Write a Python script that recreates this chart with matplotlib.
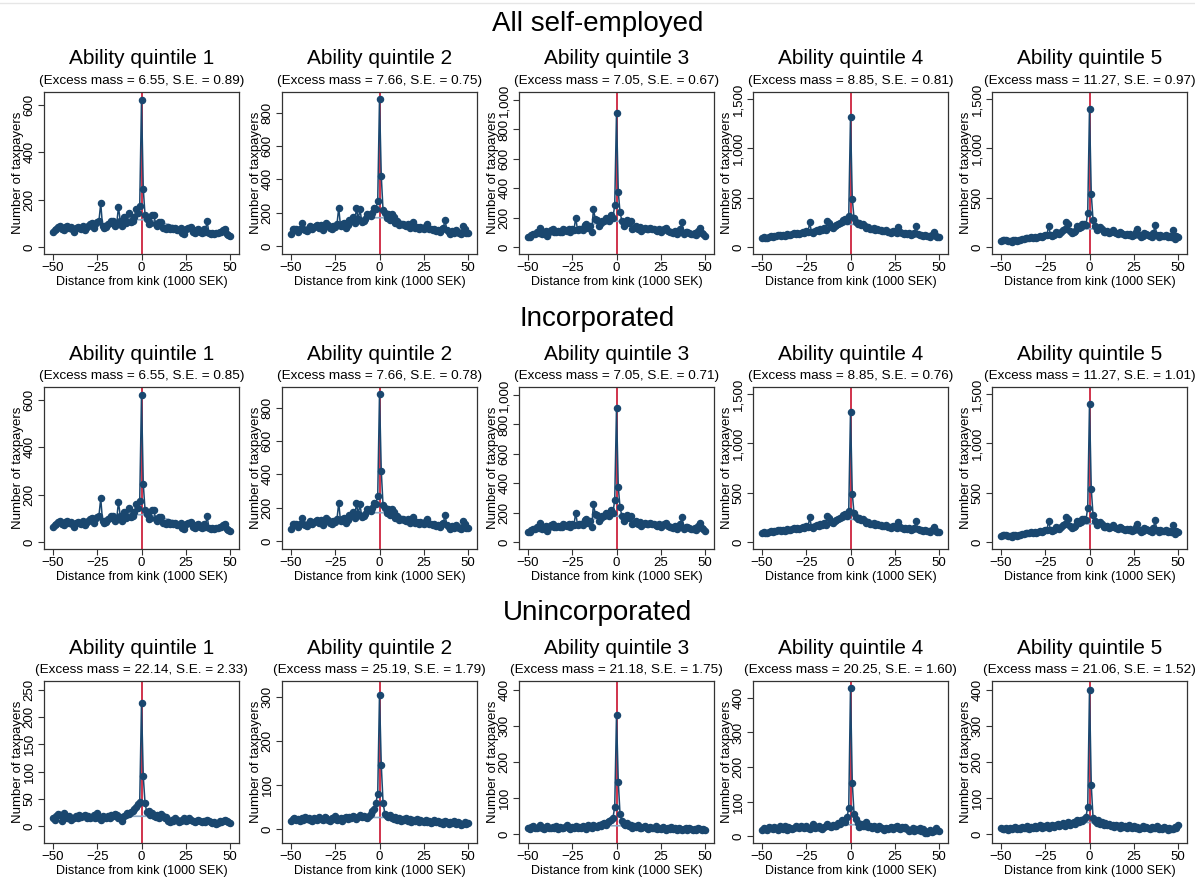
import numpy as np
import matplotlib
matplotlib.use("Agg")
from matplotlib import pyplot as plt
from matplotlib.ticker import FuncFormatter

plt.rcParams['font.family'] = ['Liberation Sans', 'DejaVu Sans']

# distance from kink, 1000 SEK bins
dist = list(range(-50, 51))

# all self-employed / incorporated (same counts in the reference)
all_q1 = [65, 70, 75, 85, 90, 75, 70, 85, 90, 80, 85, 75, 65, 80, 85, 80, 75, 90, 70, 85,
          90, 95, 100, 80, 95, 105, 110, 185, 90, 80, 85, 95, 100, 110, 110, 90, 95, 170, 110, 90,
          125, 100, 105, 145, 105, 110, 125, 160, 145, 175, 620, 245, 135, 120, 95, 100, 135, 135, 95, 90,
          105, 105, 80, 80, 75, 85, 75, 80, 75, 78, 70, 72, 80, 60, 55, 75, 78, 80, 85, 65,
          60, 70, 75, 65, 60, 75, 65, 110, 60, 55, 60, 55, 60, 58, 62, 65, 70, 75, 55, 50, 45]
all_q2 = [75, 100, 105, 100, 85, 100, 140, 105, 95, 90, 110, 120, 105, 115, 120, 125, 110, 125, 95, 120,
          140, 125, 110, 105, 120, 115, 130, 230, 120, 135, 140, 110, 125, 155, 150, 175, 140, 230, 160, 220,
          145, 150, 160, 190, 185, 180, 200, 230, 225, 270, 880, 420, 215, 200, 170, 195, 155, 190, 175, 140,
          150, 125, 135, 130, 125, 120, 130, 110, 120, 145, 110, 115, 105, 115, 110, 100, 120, 130, 105, 100,
          95, 100, 90, 95, 85, 100, 110, 155, 95, 85, 70, 90, 80, 95, 85, 80, 75, 120, 100, 80, 80]
all_q3 = [65, 70, 80, 85, 90, 100, 95, 130, 90, 100, 110, 75, 105, 115, 120, 105, 100, 110, 105, 100,
          120, 115, 110, 120, 100, 120, 115, 200, 115, 125, 120, 115, 150, 155, 130, 145, 100, 260, 190, 185,
          140, 160, 180, 175, 200, 190, 180, 220, 200, 285, 910, 375, 235, 180, 140, 160, 185, 160, 175, 125,
          130, 140, 120, 135, 110, 125, 130, 120, 120, 130, 125, 120, 115, 110, 120, 105, 115, 125, 130, 110,
          105, 100, 95, 110, 90, 105, 125, 170, 90, 100, 105, 95, 90, 85, 95, 80, 110, 130, 95, 90, 75]
all_q4 = [95, 100, 90, 95, 100, 110, 105, 110, 115, 120, 125, 110, 120, 115, 130, 125, 120, 135, 140, 130,
          145, 135, 140, 150, 145, 160, 150, 250, 150, 145, 165, 170, 160, 180, 175, 190, 170, 260, 240, 200,
          190, 210, 220, 230, 240, 250, 270, 280, 260, 310, 1320, 490, 290, 250, 230, 240, 220, 230, 210, 190,
          200, 185, 180, 190, 175, 180, 170, 175, 165, 160, 170, 150, 155, 145, 160, 150, 145, 200, 150, 140,
          135, 145, 130, 140, 125, 130, 140, 210, 130, 120, 125, 115, 120, 110, 115, 105, 120, 150, 110, 100, 105]
all_q5 = [65, 70, 75, 70, 65, 60, 55, 75, 70, 65, 70, 75, 80, 85, 90, 95, 90, 100, 95, 105,
          95, 100, 110, 105, 110, 120, 125, 215, 120, 110, 125, 150, 140, 135, 150, 170, 180, 250, 230, 165,
          140, 150, 165, 210, 190, 200, 230, 235, 220, 350, 1395, 535, 275, 215, 175, 195, 200, 185, 155, 150,
          160, 145, 150, 170, 155, 140, 135, 155, 140, 130, 125, 135, 120, 130, 115, 125, 155, 180, 120, 105,
          115, 140, 135, 125, 110, 100, 140, 220, 120, 105, 125, 115, 110, 120, 105, 110, 100, 175, 85, 110, 105]

# unincorporated
unc_q1 = [15, 12, 18, 22, 20, 10, 24, 20, 15, 18, 12, 15, 14, 18, 15, 20, 16, 18, 20, 15,
          18, 14, 16, 20, 15, 24, 14, 12, 18, 16, 14, 18, 15, 20, 18, 22, 20, 14, 16, 10,
          18, 20, 24, 22, 26, 28, 32, 35, 40, 44, 226, 91, 42, 25, 28, 20, 24, 18, 16, 20,
          15, 22, 18, 14, 16, 10, 8, 12, 10, 14, 12, 8, 10, 12, 14, 10, 12, 15, 12, 10,
          8, 10, 12, 9, 7, 10, 8, 12, 10, 8, 5, 7, 3, 6, 9, 8, 10, 12, 9, 8, 5]
unc_q2 = [18, 22, 25, 20, 22, 18, 24, 20, 26, 22, 25, 20, 18, 24, 22, 20, 26, 22, 20, 28,
          24, 20, 18, 25, 22, 30, 20, 22, 25, 18, 24, 26, 22, 28, 25, 30, 26, 22, 28, 32,
          26, 30, 28, 24, 30, 35, 40, 45, 60, 80, 305, 145, 60, 35, 30, 28, 32, 25, 22, 28,
          20, 24, 18, 22, 20, 25, 18, 22, 15, 20, 18, 22, 15, 20, 18, 16, 20, 15, 18, 14,
          16, 20, 15, 18, 14, 16, 12, 18, 15, 12, 16, 14, 18, 12, 15, 14, 10, 12, 15, 12, 14]
unc_q3 = [18, 15, 20, 22, 18, 16, 20, 24, 18, 15, 20, 22, 18, 16, 20, 18, 22, 15, 20, 18,
          16, 20, 24, 18, 15, 20, 18, 22, 16, 20, 18, 22, 20, 15, 24, 20, 18, 25, 22, 20,
          26, 22, 28, 30, 25, 32, 35, 40, 45, 75, 330, 145, 55, 35, 28, 24, 30, 22, 25, 18,
          22, 20, 24, 18, 16, 20, 22, 18, 15, 20, 16, 18, 22, 15, 18, 14, 20, 16, 12, 18,
          15, 20, 14, 16, 12, 18, 15, 10, 14, 18, 12, 16, 14, 10, 15, 12, 18, 14, 10, 15, 12]
unc_q4 = [18, 22, 20, 18, 25, 22, 20, 26, 24, 18, 28, 22, 20, 30, 18, 25, 22, 20, 24, 28,
          25, 22, 30, 26, 22, 28, 24, 20, 26, 34, 22, 25, 28, 24, 20, 26, 30, 35, 28, 25,
          32, 30, 28, 38, 35, 48, 42, 40, 55, 80, 430, 155, 65, 50, 38, 25, 35, 28, 30, 40,
          26, 28, 22, 30, 25, 20, 28, 24, 22, 18, 24, 20, 22, 25, 20, 26, 28, 22, 20, 25,
          22, 26, 20, 15, 18, 22, 14, 20, 18, 22, 16, 20, 10, 8, 14, 18, 12, 16, 22, 18, 16]
unc_q5 = [18, 15, 14, 16, 12, 18, 14, 16, 20, 15, 18, 14, 20, 16, 18, 22, 15, 20, 18, 22,
          16, 20, 24, 18, 22, 20, 26, 18, 22, 25, 20, 24, 28, 22, 25, 30, 22, 28, 32, 26,
          30, 34, 28, 38, 32, 40, 36, 42, 48, 75, 400, 135, 45, 35, 30, 38, 28, 32, 26, 30,
          24, 28, 22, 26, 20, 24, 22, 18, 25, 20, 22, 18, 24, 20, 16, 22, 18, 20, 15, 18,
          22, 16, 20, 18, 14, 20, 16, 18, 22, 15, 18, 14, 20, 16, 12, 18, 15, 14, 20, 16, 25]

# counterfactual (smooth fit, flat over the excluded window)
cf_x = [-50, -30, -15, -6, 5, 15, 30, 50]
cf_all = [[70, 90, 105, 115, 115, 95, 70, 55],
          [95, 120, 150, 170, 170, 140, 105, 85],
          [80, 110, 150, 175, 175, 135, 110, 90],
          [100, 140, 195, 230, 230, 185, 140, 110],
          [65, 100, 150, 185, 185, 150, 125, 105]]
cf_unc = [[16, 17, 18, 18, 18, 16, 12, 8],
          [22, 23, 25, 26, 26, 22, 17, 13],
          [18, 19, 21, 23, 23, 20, 16, 13],
          [22, 25, 28, 33, 33, 26, 22, 16],
          [15, 20, 26, 32, 32, 24, 19, 17]]

row_titles = ["All self-employed", "Incorporated", "Unincorporated"]
excess_all = [6.55, 7.66, 7.05, 8.85, 11.27]
se_all = [0.89, 0.75, 0.67, 0.81, 0.97]
excess_inc = [6.55, 7.66, 7.05, 8.85, 11.27]
se_inc = [0.85, 0.78, 0.71, 0.76, 1.01]
excess_unc = [22.14, 25.19, 21.18, 20.25, 21.06]
se_unc = [2.33, 1.79, 1.75, 1.60, 1.52]

navy = '#1a476f'
light = '#8fa9c4'
red = '#c8102e'

W, H = 1195, 880
fig = plt.figure(figsize=(W / 100, H / 100), dpi=100)
# thin rule at the very top, as in the exported graph
fig.add_artist(plt.Line2D([0, 1], [1 - 3 / H, 1 - 3 / H], color='#e6e6e6', lw=1))

lefts = [44, 282, 519, 753, 992]
width = 195
row_tops = [92, 387, 681]
height = 162

ylims_top = [(-30, 655, 200), (-48, 925, 200), (-48, 1055, 200), (-70, 1570, 500), (-70, 1570, 500)]
ylims_unc = [(-31, 266, 50), (-32, 336, 100), (-25, 425, 100), (-20, 449, 100), (-25, 425, 100)]

rows = [
    ([all_q1, all_q2, all_q3, all_q4, all_q5], cf_all, excess_all, se_all, ylims_top),
    ([all_q1, all_q2, all_q3, all_q4, all_q5], cf_all, excess_inc, se_inc, ylims_top),
    ([unc_q1, unc_q2, unc_q3, unc_q4, unc_q5], cf_unc, excess_unc, se_unc, ylims_unc),
]

fmt = FuncFormatter(lambda v, p: "{:,}".format(int(round(v))))

for r, (series, cfs, em, se, ylims) in enumerate(rows):
    top = row_tops[r]
    fig.text(0.5, 1 - (top - 68) / H, row_titles[r], ha='center', va='center', fontsize=20)
    for c in range(5):
        ax = fig.add_axes([lefts[c] / W, 1 - (top + height) / H, width / W, height / H])
        ax.plot(cf_x, cfs[c], color=light, lw=1.2, zorder=2)
        ax.axvline(0, color=red, lw=1.2, zorder=1)
        ax.plot(dist, series[c], color=navy, lw=1.1, marker='o', ms=4.4, zorder=3)
        lo, hi, step = ylims[c]
        ax.set_ylim(lo, hi)
        ax.set_yticks(np.arange(0, hi, step))
        ax.yaxis.set_major_formatter(fmt)
        ax.set_xlim(-55, 55)
        ax.set_xticks([-50, -25, 0, 25, 50])
        ax.tick_params(labelsize=9.5, length=4, width=0.8, color='#333333', pad=2)
        for lab in ax.get_yticklabels():
            lab.set_rotation(90)
            lab.set_va('center')
        for s in ax.spines.values():
            s.set_color('#333333')
            s.set_linewidth(0.9)
        ax.set_xlabel("Distance from kink (1000 SEK)", fontsize=9.0, labelpad=1)
        ax.set_ylabel("Number of taxpayers", fontsize=9.5, labelpad=0)
        ax.set_title(f"(Excess mass = {em[c]:.2f}, S.E. = {se[c]:.2f})", fontsize=9.7, pad=6)
        ax.text(0.5, 1 + 33 / height, f"Ability quintile {c + 1}", transform=ax.transAxes,
                ha='center', va='center', fontsize=15)

fig.savefig("out.png", dpi=100, facecolor='white')
